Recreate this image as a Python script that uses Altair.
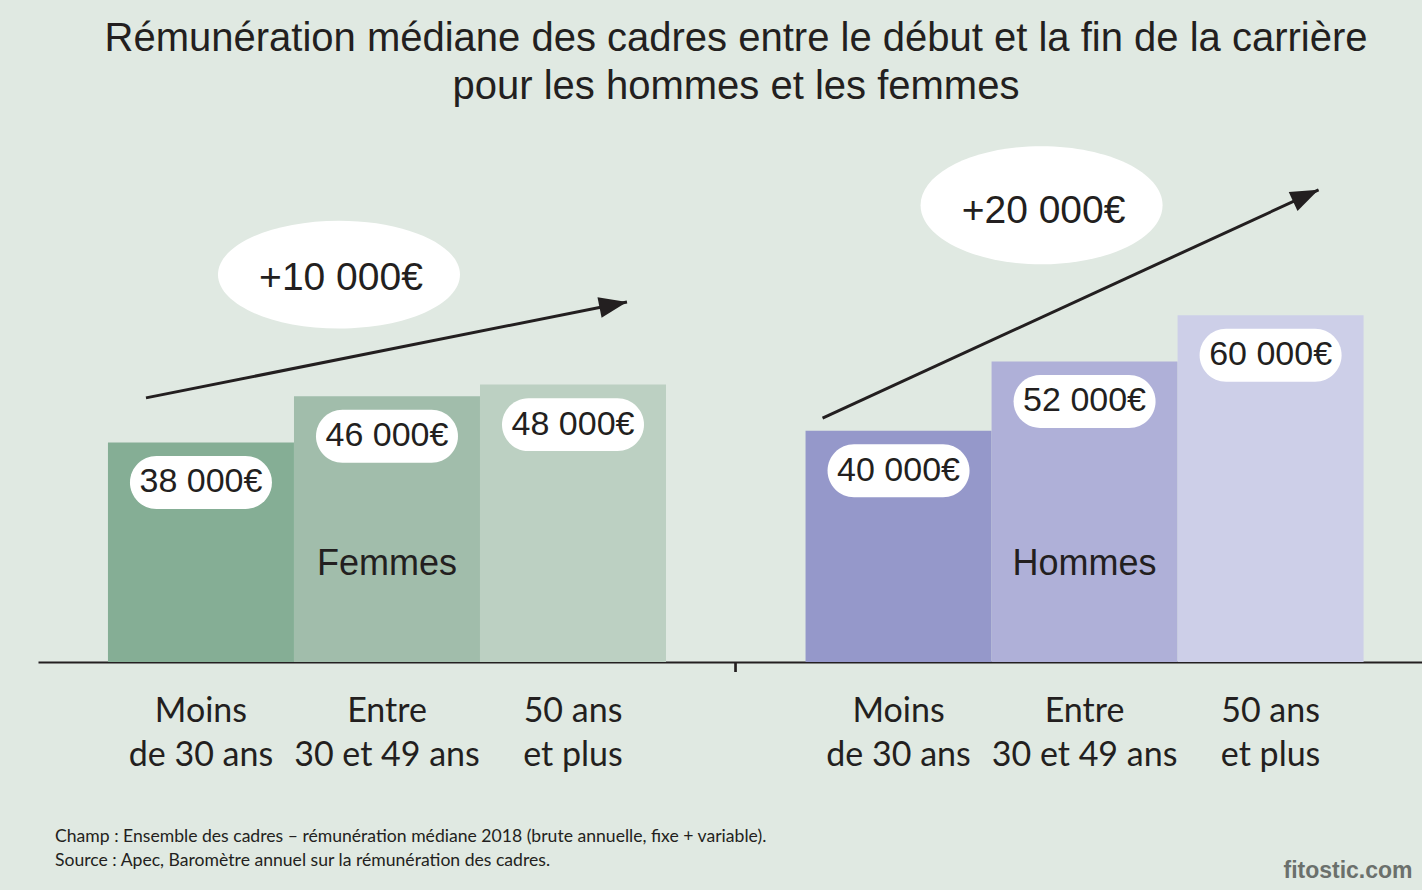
import altair as alt
import pandas as pd

# ---------------- data ----------------
groups = ["Femmes", "Hommes"]
ages = ["Moins de 30 ans", "Entre 30 et 49 ans", "50 ans et plus"]
age_lines = ["Moins\nde 30 ans", "Entre\n30 et 49 ans", "50 ans\net plus"]
femmes = [38000, 46000, 48000]
hommes = [40000, 52000, 60000]
# arrow annotation levels (in euros on the y scale)
arrow_start = [45700, 42200]
arrow_end = [62300, 81700]

title_lines = [
    "Rémunération médiane des cadres entre le début et la fin de la carrière",
    "pour les hommes et les femmes",
]
footer_lines = [
    "Champ : Ensemble des cadres – rémunération médiane 2018 (brute annuelle, fixe + variable).",
    "Source : Apec, Baromètre annuel sur la rémunération des cadres.",
]

# ---------------- styles ----------------
BG = "#e0e9e2"
INK = "#231f20"
bar_colors = {
    "Femmes": ["#85ae95", "#a1bdab", "#bcd0c2"],
    "Hommes": ["#9598ca", "#afb0d8", "#cdcfe8"],
}
HUM = "Lato"
SANS = "Liberation Sans"


def euro(v, sign=""):
    return sign + f"{v:,}".replace(",", " ") + "€"


rows = []
for g, vals in zip(groups, [femmes, hommes]):
    for a, lines, v in zip(ages, age_lines, vals):
        rows.append({"group": g, "age": a, "age_label": lines, "value": v,
                     "key": g + "|" + a, "label": euro(v)})
bars = pd.DataFrame(rows)
keys = [g + "|" + a for g in groups for a in ages]
key_colors = [c for g in groups for c in bar_colors[g]]

grows = []
for i, (g, vals) in enumerate(zip(groups, [femmes, hommes])):
    grows.append({"group": g, "top": vals[-1], "gain": euro(vals[-1] - vals[0], "+"),
                  "a_from": arrow_start[i], "a_to": arrow_end[i]})
gains = pd.DataFrame(grows)

W, H = 1384, 549
YMAX = 95000

x_enc = alt.X("group:N",
              scale=alt.Scale(domain=groups, paddingInner=0.2, paddingOuter=0.092, align=0.545),
              axis=alt.Axis(labels=False, ticks=False, title=None, domain=True,
                            domainColor=INK, domainWidth=2.2, grid=False))
xo_enc = alt.XOffset("age:N", scale=alt.Scale(domain=ages, paddingInner=0, paddingOuter=0))
y_enc = alt.Y("value:Q", scale=alt.Scale(domain=[0, YMAX], nice=False, zero=True), axis=None)

PILL = ("M-0.627,-0.373 L0.627,-0.373 A0.373,0.373 0 0,1 0.627,0.373 "
        "L-0.627,0.373 A0.373,0.373 0 0,1 -0.627,-0.373 Z")
HEAD = "M0,0 L-2,-0.75 L-2,0.75 Z"


def ellipse(ratio):
    return f"M-1,0 A1,{ratio} 0 1,1 1,0 A1,{ratio} 0 1,1 -1,0 Z"


base = alt.Chart(bars)

bar_layer = base.mark_bar(size=186).encode(
    x=x_enc, xOffset=xo_enc, y=y_enc,
    color=alt.Color("key:N", scale=alt.Scale(domain=keys, range=key_colors), legend=None),
)

pill_layer = base.mark_point(shape=PILL, size=142 ** 2, filled=True, color="white",
                             opacity=1, strokeWidth=0, yOffset=40).encode(
    x="group:N", xOffset="age:N", y="value:Q")

value_text = base.mark_text(font=SANS, fontSize=34, color=INK, yOffset=40,
                            baseline="middle").encode(
    x="group:N", xOffset="age:N", y="value:Q", text="label:N")

age_text = base.mark_text(font=HUM, fontSize=34, color=INK, baseline="alphabetic",
                          dy=60, lineBreak="\n", lineHeight=44).encode(
    x="group:N", xOffset="age:N", y=alt.datum(0), text="age_label:N")

group_text = alt.Chart(gains).mark_text(font=SANS, fontSize=36, color=INK,
                                        baseline="alphabetic").encode(
    x="group:N", y=alt.datum(15000), text="group:N")

tick = alt.Chart(gains).mark_rule(color=INK, strokeWidth=2.2, xOffset=-70, y2Offset=10).encode(
    x=alt.X(datum="Hommes", bandPosition=0), y=alt.datum(0), y2=alt.datum(0))

annot = []
specs = {
    "Femmes": dict(s=-241, e=240, ang=348.7, ex=-48, ratio=0.446, ty=-107),
    "Hommes": dict(s=-262, e=234, ang=335.3, ex=-43, ratio=0.488, ty=-104),
}
for g in groups:
    p = specs[g]
    c = alt.Chart(gains).transform_filter(alt.datum.group == g)
    annot.append(c.mark_point(shape=ellipse(p["ratio"]), size=242 ** 2, filled=True,
                              color="white", opacity=1, strokeWidth=0,
                              xOffset=p["ex"], yOffset=-110).encode(
        x="group:N", y=alt.Y("top:Q")))
    annot.append(c.mark_text(font=SANS, fontSize=39, color=INK, baseline="middle",
                             xOffset=p["ex"] + 2, yOffset=p["ty"]).encode(
        x="group:N", y=alt.Y("top:Q"), text="gain:N"))
    annot.append(c.mark_rule(color=INK, strokeWidth=3, xOffset=p["s"], x2Offset=p["e"]).encode(
        x=alt.X("group:N", bandPosition=0.5), x2=alt.X2("group:N", bandPosition=0.5),
        y=alt.Y("a_from:Q"), y2=alt.Y2("a_to:Q")))
    annot.append(c.mark_point(shape=HEAD, size=28 ** 2, filled=True, color=INK, opacity=1,
                              strokeWidth=0, angle=p["ang"], xOffset=p["e"]).encode(
        x="group:N", y=alt.Y("a_to:Q")))

footer = alt.Chart(pd.DataFrame({"t": ["\n".join(footer_lines)]})).mark_text(
    font=HUM, fontSize=17.6, color=INK, align="left", baseline="alphabetic",
    lineBreak="\n", lineHeight=24).encode(
    x=alt.value(17), y=alt.value(729), text="t:N")

mark_wm = alt.Chart(pd.DataFrame({"t": ["fitostic.com"]})).mark_text(
    font=SANS, fontSize=23, fontWeight="bold", color="#6b706c", align="center",
    baseline="alphabetic").encode(x=alt.value(1310), y=alt.value(765), text="t:N")

chart = alt.layer(bar_layer, tick, pill_layer, value_text, age_text, group_text,
                  *annot, footer, mark_wm).properties(
    width=W, height=H,
    title=alt.Title(text=title_lines, font=SANS, fontSize=40, fontWeight="normal",
                    color=INK, anchor="middle", lineHeight=48, offset=6, dx=6),
    autosize=alt.AutoSizeParams(type="none"),
    padding={"left": 38, "top": 113, "right": 0, "bottom": 228},
    background=BG,
).configure_view(stroke=None)

chart.save("out.html", embed_options={"renderer": "svg", "actions": False})
